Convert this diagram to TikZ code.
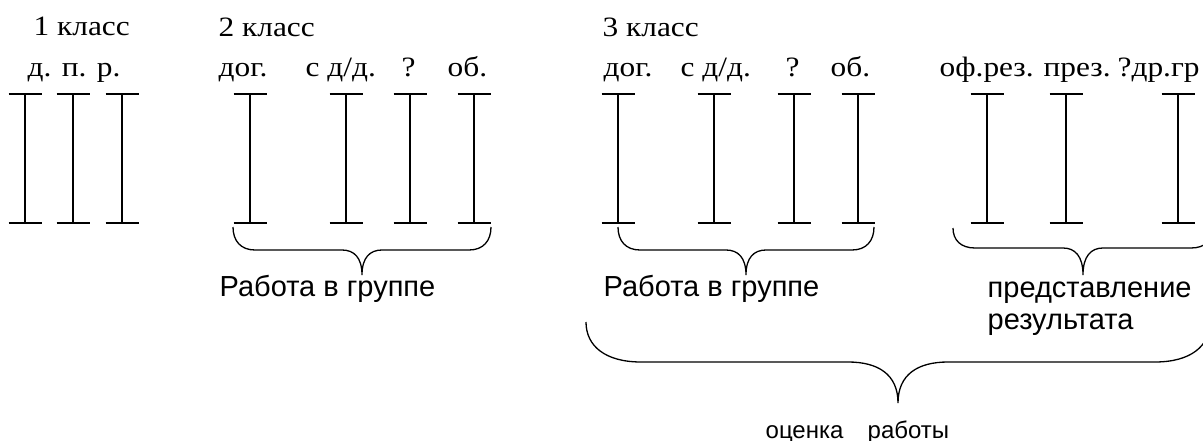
\documentclass[tikz,border=0pt]{standalone}
\usepackage{fontspec}
\setmainfont[FakeStretch=1.12]{Liberation Serif}
\newfontfamily\capsans{Liberation Sans}

% an I-shaped bar: name, x position
\newcommand\ibar[2]{%
  \coordinate (#1t) at (#2,94);
  \coordinate (#1b) at (#2,223);
  \draw ([xshift=-16.5pt]#1t) -- ([xshift=16.5pt]#1t);
  \draw (#1t) -- (#1b);
  \draw ([xshift=-16.5pt]#1b) -- ([xshift=16.5pt]#1b);
}

% horizontal curly brace opening upwards
% #1 left x, #2 right x, #3 arm top y, #4 bar y, #5 tip y, #6 corner width, #7 tip half width
\newcommand\bracecurve[7]{%
  \draw (#1,#3) .. controls (#1,{#3+0.6*(#4-#3)}) and ({#1+0.35*#6},#4) .. ({#1+#6},#4)
    -- ({(#1+#2)/2-#7},#4)
    .. controls ({(#1+#2)/2-0.4*#7},#4) and ({(#1+#2)/2},{#4+0.3*(#5-#4)}) .. ({(#1+#2)/2},#5)
    .. controls ({(#1+#2)/2},{#4+0.3*(#5-#4)}) and ({(#1+#2)/2+0.4*#7},#4) .. ({(#1+#2)/2+#7},#4)
    -- ({#2-#6},#4)
    .. controls ({#2-0.35*#6},#4) and (#2,{#3+0.6*(#4-#3)}) .. (#2,#3);
}

\tikzset{
  lbl/.style={anchor=base west, inner sep=0pt, font=\fontsize{28}{32}\selectfont},
  grp/.style={anchor=base west, inner sep=0pt, font=\capsans\fontsize{29}{32}\selectfont},
  sum/.style={anchor=base west, inner sep=0pt, font=\capsans\fontsize{24}{28}\selectfont}
}

\begin{document}
\begin{tikzpicture}[x=1pt, y=-1pt, line width=1.3pt]
\useasboundingbox (0,0) rectangle (1203,441);
\clip (0,0) rectangle (1203,441);

% headings
\node[lbl] (k1) at (33,36) {1 класс};
\node[lbl] (k2) at (218,37) {2 класс};
\node[lbl] (k3) at (602,37) {3 класс};

% first class
\node[lbl] (a1) at (27,77) {д. п. р.};
\ibar{p1}{25}
\ibar{p2}{73}
\ibar{p3}{122}

% second class
\node[lbl] (b1) at (218,77) {дог.};
\node[lbl] (b2) at (305,77) {с д/д.};
\node[lbl] (b3) at (401,77) {?};
\node[lbl] (b4) at (447,77) {об.};
\ibar{q1}{250}
\ibar{q2}{346}
\ibar{q3}{410}
\ibar{q4}{474}

% third class
\node[lbl] (c1) at (603,77) {дог.};
\node[lbl] (c2) at (680,77) {с д/д.};
\node[lbl] (c3) at (785,77) {?};
\node[lbl] (c4) at (830,77) {об.};
\ibar{r1}{618}
\ibar{r2}{714}
\ibar{r3}{794}
\ibar{r4}{858}

\node[lbl] (d1) at (939,77) {оф.рез.};
\node[lbl] (d2) at (1043,77) {през.};
\node[lbl] (d3) at (1117,77) {?др.гр};
\ibar{s1}{987}
\ibar{s2}{1066}
\ibar{s3}{1178}

% braces
\bracecurve{233}{491}{227}{250}{275}{22}{20}
\bracecurve{618}{874}{227}{250}{275}{22}{20}
\bracecurve{953}{1213}{228}{248}{275}{22}{20}
\bracecurve{586}{1210}{322}{362}{403}{55}{50}

% captions
\node[grp] (g2) at (219,296) {Работа в группе};
\node[grp] (g3) at (603,296) {Работа в группе};
\node[grp] (g4) at (987,297) {представление};
\node[grp] (g5) at (987,329) {результата};
\node[sum] (e1) at (765,438) {оценка};
\node[sum] (e2) at (867,438) {работы};
\end{tikzpicture}
\end{document}
